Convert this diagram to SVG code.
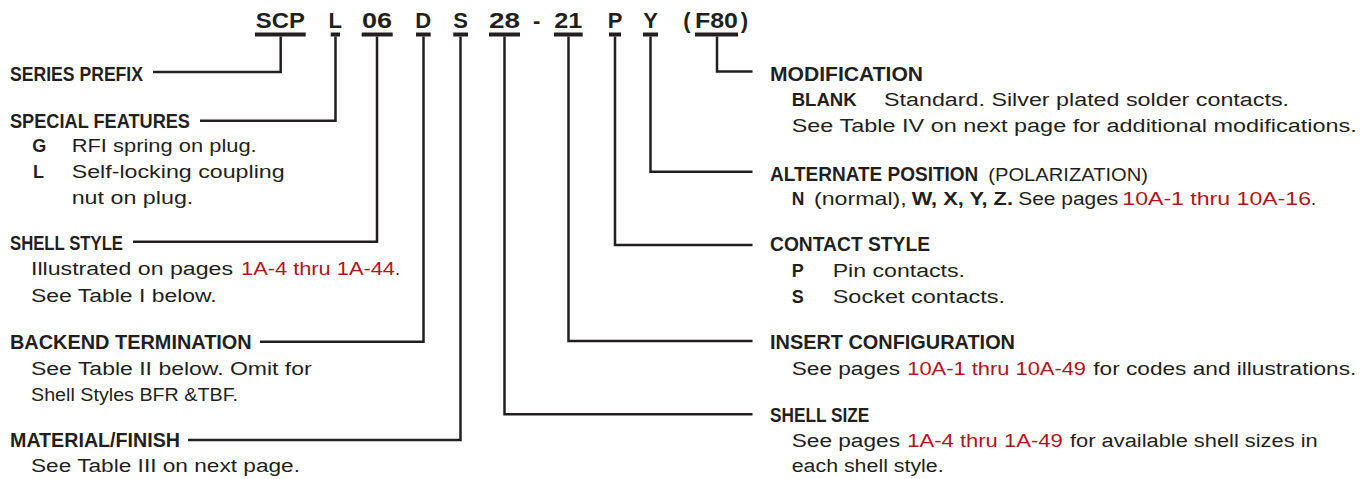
<svg xmlns="http://www.w3.org/2000/svg" width="1370" height="479" viewBox="0 0 1370 479">
<style>
.t{font-family:"Liberation Sans",Arial,sans-serif;fill:#231f20}
.code{font-size:22px;font-weight:bold;text-anchor:middle}
.h{font-size:20px;font-weight:bold}
.b{font-size:18px}
.k{font-size:18px;font-weight:bold}
.r{fill:#b3131b}
.ln{fill:none;stroke:#231f20;stroke-width:2.5}
.ul{fill:#231f20}
</style>
<rect width="1370" height="479" fill="#ffffff"/>
<g id="code">
<text class="t code" x="280.3" y="28" textLength="49" lengthAdjust="spacingAndGlyphs">SCP</text>
<text class="t code" x="335.3" y="28">L</text>
<text class="t code" x="377" y="28" textLength="30" lengthAdjust="spacingAndGlyphs">06</text>
<text class="t code" x="423.3" y="28">D</text>
<text class="t code" x="460.7" y="28">S</text>
<text class="t code" x="504.5" y="28" textLength="31" lengthAdjust="spacingAndGlyphs">28</text>
<text class="t code" x="536.7" y="28">-</text>
<text class="t code" x="568.3" y="28" textLength="28" lengthAdjust="spacingAndGlyphs">21</text>
<text class="t code" x="615" y="28">P</text>
<text class="t code" x="650.5" y="28">Y</text>
<text class="t code" x="687" y="28">(</text>
<text class="t code" x="716.5" y="28" textLength="43" lengthAdjust="spacingAndGlyphs">F80</text>
<text class="t code" x="744.5" y="28">)</text>
<rect class="ul" x="255" y="32.5" width="50.7" height="4"/>
<rect class="ul" x="330.7" y="32.5" width="9.3" height="4"/>
<rect class="ul" x="361.7" y="32.5" width="31" height="4"/>
<rect class="ul" x="416" y="32.5" width="14.7" height="4"/>
<rect class="ul" x="453.3" y="32.5" width="14.7" height="4"/>
<rect class="ul" x="489" y="32.5" width="31" height="4"/>
<rect class="ul" x="554" y="32.5" width="28.7" height="4"/>
<rect class="ul" x="609" y="32.5" width="12" height="4"/>
<rect class="ul" x="643" y="32.5" width="15" height="4"/>
<rect class="ul" x="695" y="32.5" width="43" height="4"/>
</g>
<g id="connectors">
<path class="ln" d="M280.7,36.5 V72 H153"/>
<path class="ln" d="M335.5,36.5 V120.7 H200"/>
<path class="ln" d="M377,36.5 V241.7 H133"/>
<path class="ln" d="M423.5,36.5 V341.7 H260"/>
<path class="ln" d="M460.5,36.5 V440 H188"/>
<path class="ln" d="M504.5,36.5 V414.3 H752.5"/>
<path class="ln" d="M568.5,36.5 V341 H752.5"/>
<path class="ln" d="M615,36.5 V245 H752.5"/>
<path class="ln" d="M650.5,36.5 V171.7 H752.5"/>
<path class="ln" d="M717,36.5 V71.5 H752.5"/>
</g>
<g id="series-prefix">
<text class="t h" x="10" y="80.7" textLength="133" lengthAdjust="spacingAndGlyphs">SERIES PREFIX</text>
</g>
<g id="special-features">
<text class="t h" x="10" y="128.3" textLength="180" lengthAdjust="spacingAndGlyphs">SPECIAL FEATURES</text>
<text class="t k" x="32.3" y="152">G</text>
<text class="t b" x="71.7" y="152" textLength="185" lengthAdjust="spacingAndGlyphs">RFI spring on plug.</text>
<text class="t k" x="33" y="178.3">L</text>
<text class="t b" x="71.7" y="178.3" textLength="213" lengthAdjust="spacingAndGlyphs">Self-locking coupling</text>
<text class="t b" x="71.7" y="204" textLength="121.6" lengthAdjust="spacingAndGlyphs">nut on plug.</text>
</g>
<g id="shell-style">
<text class="t h" x="10" y="250" textLength="113" lengthAdjust="spacingAndGlyphs">SHELL STYLE</text>
<text class="t b" x="31" y="275" textLength="202" lengthAdjust="spacingAndGlyphs">Illustrated on pages</text>
<text class="t b r" x="241" y="275" textLength="154" lengthAdjust="spacingAndGlyphs">1A-4 thru 1A-44</text>
<text class="t b" x="395" y="275">.</text>
<text class="t b" x="31" y="301.7" textLength="185.7" lengthAdjust="spacingAndGlyphs">See Table I below.</text>
</g>
<g id="backend-termination">
<text class="t h" x="10" y="349.3" textLength="241.7" lengthAdjust="spacingAndGlyphs">BACKEND TERMINATION</text>
<text class="t b" x="31" y="375" textLength="280.7" lengthAdjust="spacingAndGlyphs">See Table II below. Omit for</text>
<text class="t b" x="31" y="401" textLength="207" lengthAdjust="spacingAndGlyphs">Shell Styles BFR &amp;TBF.</text>
</g>
<g id="material-finish">
<text class="t h" x="10" y="446.7" textLength="170" lengthAdjust="spacingAndGlyphs">MATERIAL/FINISH</text>
<text class="t b" x="31" y="472.3" textLength="269" lengthAdjust="spacingAndGlyphs">See Table III on next page.</text>
</g>
<g id="modification">
<text class="t h" x="770" y="81" textLength="153" lengthAdjust="spacingAndGlyphs">MODIFICATION</text>
<text class="t k" x="791.7" y="105.7" textLength="65" lengthAdjust="spacingAndGlyphs">BLANK</text>
<text class="t b" x="884" y="105.7" textLength="405" lengthAdjust="spacingAndGlyphs">Standard. Silver plated solder contacts.</text>
<text class="t b" x="791.7" y="131.7" textLength="565" lengthAdjust="spacingAndGlyphs">See Table IV on next page for additional modifications.</text>
</g>
<g id="alternate-position">
<text class="t h" x="770" y="181" textLength="208.3" lengthAdjust="spacingAndGlyphs">ALTERNATE POSITION</text>
<text class="t b" x="988.3" y="181" textLength="159.7" lengthAdjust="spacingAndGlyphs">(POLARIZATION)</text>
<text class="t k" x="791.7" y="205" textLength="12.6" lengthAdjust="spacingAndGlyphs">N</text>
<text class="t b" x="814" y="205" textLength="92.7" lengthAdjust="spacingAndGlyphs">(normal),</text>
<text class="t k" x="911.7" y="205" textLength="101.3" lengthAdjust="spacingAndGlyphs">W, X, Y, Z.</text>
<text class="t b" x="1018.3" y="205" textLength="100" lengthAdjust="spacingAndGlyphs">See pages</text>
<text class="t b r" x="1122.3" y="205" textLength="188.7" lengthAdjust="spacingAndGlyphs">10A-1 thru 10A-16</text>
<text class="t b" x="1311" y="205">.</text>
</g>
<g id="contact-style">
<text class="t h" x="770" y="250.7" textLength="160" lengthAdjust="spacingAndGlyphs">CONTACT STYLE</text>
<text class="t k" x="791.7" y="276.7">P</text>
<text class="t b" x="832.7" y="276.7" textLength="132.3" lengthAdjust="spacingAndGlyphs">Pin contacts.</text>
<text class="t k" x="791.7" y="302.7">S</text>
<text class="t b" x="832.7" y="302.7" textLength="172.3" lengthAdjust="spacingAndGlyphs">Socket contacts.</text>
</g>
<g id="insert-configuration">
<text class="t h" x="770" y="349.3" textLength="245" lengthAdjust="spacingAndGlyphs">INSERT CONFIGURATION</text>
<text class="t b" x="791.7" y="375" textLength="108.3" lengthAdjust="spacingAndGlyphs">See pages</text>
<text class="t b r" x="907.3" y="375" textLength="178.7" lengthAdjust="spacingAndGlyphs">10A-1 thru 10A-49</text>
<text class="t b" x="1093.3" y="375" textLength="263" lengthAdjust="spacingAndGlyphs">for codes and illustrations.</text>
</g>
<g id="shell-size">
<text class="t h" x="770" y="421.7" textLength="99.3" lengthAdjust="spacingAndGlyphs">SHELL SIZE</text>
<text class="t b" x="791.7" y="446.7" textLength="108.3" lengthAdjust="spacingAndGlyphs">See pages</text>
<text class="t b r" x="907.3" y="446.7" textLength="155.4" lengthAdjust="spacingAndGlyphs">1A-4 thru 1A-49</text>
<text class="t b" x="1070" y="446.7" textLength="247.7" lengthAdjust="spacingAndGlyphs">for available shell sizes in</text>
<text class="t b" x="791.7" y="472.3" textLength="152" lengthAdjust="spacingAndGlyphs">each shell style.</text>
</g>
</svg>
